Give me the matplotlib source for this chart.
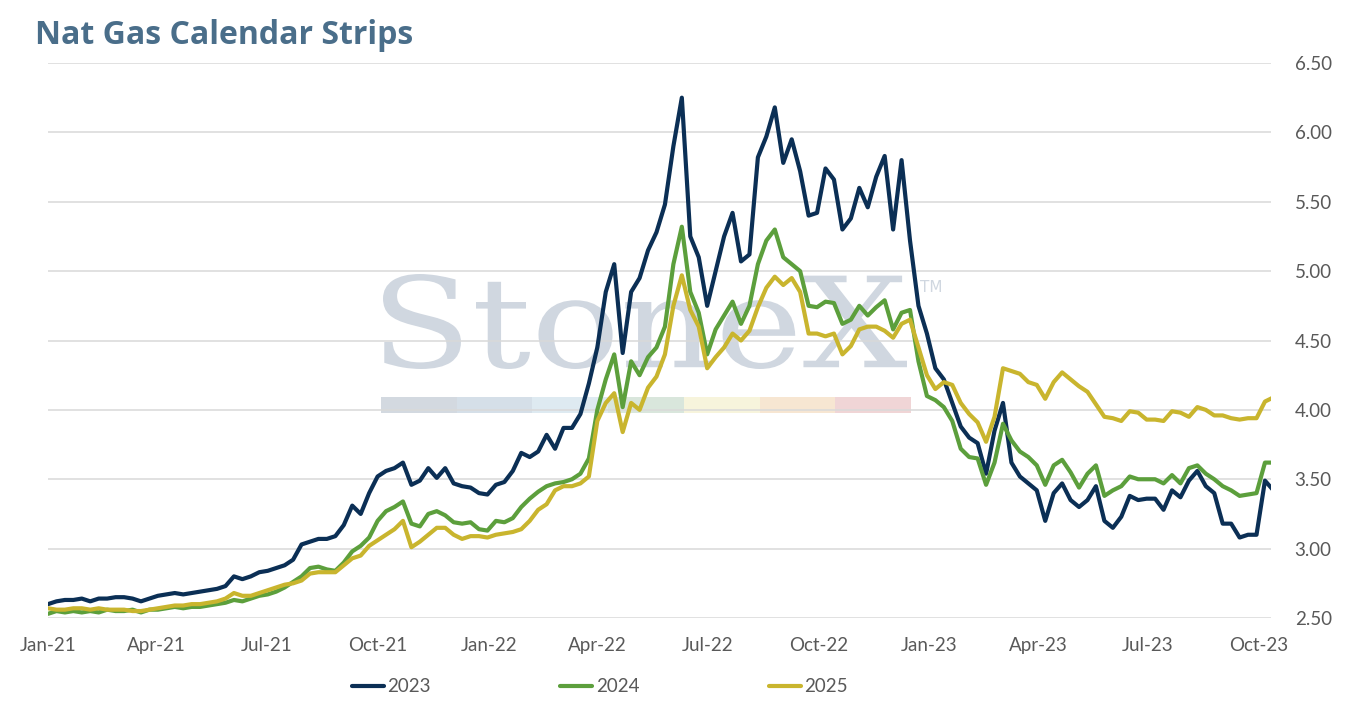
import numpy as np
import pandas as pd
import matplotlib
matplotlib.use("Agg")
import matplotlib.pyplot as plt
import matplotlib.dates as mdates
from matplotlib.textpath import TextPath
from matplotlib.font_manager import FontProperties
from matplotlib.patches import PathPatch, Rectangle
from matplotlib.transforms import Affine2D

# weekly settles, Jan-21 .. Oct-23
dates = pd.date_range("2021-01-01", periods=146, freq="7D")

strip_2023 = [
    2.60, 2.62, 2.63, 2.63, 2.64, 2.62, 2.64, 2.64, 2.65, 2.65,
    2.64, 2.62, 2.64, 2.66, 2.67, 2.68, 2.67, 2.68, 2.69, 2.70,
    2.71, 2.73, 2.80, 2.78, 2.80, 2.83, 2.84, 2.86, 2.88, 2.92,
    3.03, 3.05, 3.07, 3.07, 3.09, 3.17, 3.31, 3.25, 3.40, 3.52,
    3.56, 3.58, 3.62, 3.46, 3.49, 3.58, 3.51, 3.58, 3.47, 3.45,
    3.44, 3.40, 3.39, 3.46, 3.48, 3.56, 3.69, 3.66, 3.70, 3.82,
    3.72, 3.87, 3.87, 3.97, 4.19, 4.45, 4.85, 5.05, 4.41, 4.85,
    4.95, 5.15, 5.28, 5.48, 5.90, 6.25, 5.25, 5.10, 4.75, 5.00,
    5.25, 5.42, 5.07, 5.12, 5.82, 5.97, 6.18, 5.78, 5.95, 5.72,
    5.40, 5.42, 5.74, 5.66, 5.30, 5.38, 5.60, 5.46, 5.68, 5.83,
    5.30, 5.80, 5.22, 4.75, 4.55, 4.30, 4.22, 4.05, 3.88, 3.80,
    3.76, 3.54, 3.85, 4.05, 3.62, 3.52, 3.47, 3.42, 3.20, 3.40,
    3.47, 3.35, 3.30, 3.35, 3.45, 3.20, 3.15, 3.23, 3.38, 3.35,
    3.36, 3.36, 3.28, 3.42, 3.37, 3.49, 3.56, 3.45, 3.40, 3.18,
    3.18, 3.08, 3.10, 3.10, 3.49, 3.42,
]

strip_2024 = [
    2.53, 2.55, 2.54, 2.55, 2.54, 2.55, 2.54, 2.56, 2.55, 2.55,
    2.56, 2.54, 2.56, 2.56, 2.57, 2.58, 2.57, 2.58, 2.58, 2.59,
    2.60, 2.61, 2.63, 2.62, 2.64, 2.66, 2.67, 2.69, 2.72, 2.76,
    2.80, 2.86, 2.87, 2.85, 2.84, 2.90, 2.98, 3.02, 3.08, 3.20,
    3.27, 3.30, 3.34, 3.18, 3.16, 3.25, 3.27, 3.24, 3.19, 3.18,
    3.19, 3.14, 3.13, 3.20, 3.19, 3.22, 3.30, 3.36, 3.41, 3.45,
    3.47, 3.48, 3.50, 3.54, 3.65, 4.00, 4.22, 4.40, 4.02, 4.35,
    4.25, 4.38, 4.45, 4.60, 5.05, 5.32, 4.85, 4.70, 4.40, 4.58,
    4.68, 4.78, 4.62, 4.75, 5.05, 5.22, 5.30, 5.10, 5.05, 5.00,
    4.75, 4.74, 4.78, 4.77, 4.62, 4.65, 4.75, 4.68, 4.74, 4.79,
    4.58, 4.70, 4.72, 4.35, 4.10, 4.07, 4.02, 3.92, 3.72, 3.66,
    3.65, 3.46, 3.62, 3.90, 3.78, 3.70, 3.66, 3.60, 3.46, 3.60,
    3.64, 3.55, 3.44, 3.54, 3.60, 3.38, 3.42, 3.45, 3.52, 3.50,
    3.50, 3.50, 3.47, 3.53, 3.47, 3.58, 3.60, 3.54, 3.50, 3.45,
    3.42, 3.38, 3.39, 3.40, 3.62, 3.62,
]

strip_2025 = [
    2.57, 2.56, 2.56, 2.57, 2.57, 2.56, 2.57, 2.56, 2.56, 2.56,
    2.55, 2.55, 2.56, 2.57, 2.58, 2.59, 2.59, 2.60, 2.60, 2.61,
    2.62, 2.64, 2.68, 2.66, 2.66, 2.68, 2.70, 2.72, 2.74, 2.75,
    2.77, 2.82, 2.83, 2.83, 2.83, 2.88, 2.93, 2.95, 3.02, 3.06,
    3.10, 3.14, 3.20, 3.01, 3.05, 3.10, 3.15, 3.15, 3.10, 3.07,
    3.09, 3.09, 3.08, 3.10, 3.11, 3.12, 3.14, 3.20, 3.28, 3.32,
    3.42, 3.45, 3.45, 3.47, 3.52, 3.92, 4.05, 4.12, 3.84, 4.05,
    4.00, 4.16, 4.24, 4.40, 4.75, 4.97, 4.72, 4.60, 4.30, 4.38,
    4.45, 4.55, 4.50, 4.57, 4.74, 4.88, 4.96, 4.90, 4.95, 4.85,
    4.55, 4.55, 4.53, 4.55, 4.40, 4.46, 4.58, 4.60, 4.60, 4.57,
    4.52, 4.62, 4.65, 4.45, 4.25, 4.15, 4.20, 4.18, 4.05, 3.97,
    3.91, 3.77, 3.95, 4.30, 4.28, 4.26, 4.20, 4.18, 4.08, 4.20,
    4.27, 4.22, 4.17, 4.13, 4.04, 3.95, 3.94, 3.92, 3.99, 3.98,
    3.93, 3.93, 3.92, 3.99, 3.98, 3.95, 4.02, 4.00, 3.96, 3.96,
    3.94, 3.93, 3.94, 3.94, 4.06, 4.09,
]

series_labels = ["2023", "2024", "2025"]
series_colors = ["#0b2f55", "#5c9f3c", "#c9b52e"]
y_ticks = [2.5, 3.0, 3.5, 4.0, 4.5, 5.0, 5.5, 6.0, 6.5]

W, H = 1350, 707
plt.rcParams["font.family"] = ["Lato", "DejaVu Sans"]

fig = plt.figure(figsize=(W / 100, H / 100), dpi=100)
ax = fig.add_axes([48 / W, 1 - 618 / H, (1271 - 48) / W, (618 - 63) / H])

# StoneX watermark, stretched into its box (pixel coords -> figure fraction)
def px_box(path, x0, y0, x1, y1):
    ext = path.get_extents()
    sx = (x1 - x0) / ext.width
    sy = (y1 - y0) / ext.height
    tr = (Affine2D().translate(-ext.x0, -ext.y0).scale(sx, sy)
          .translate(x0, H - y1).scale(1 / W, 1 / H))
    return tr + fig.transFigure

wm_color = "#d0d7e0"
tp = TextPath((0, 0), "StoneX", prop=FontProperties(family="DejaVu Serif"), size=100)
ax.add_patch(PathPatch(tp, transform=px_box(tp, 383, 274, 907, 369),
                       facecolor=wm_color, edgecolor="none", zorder=0.2, clip_on=False))
fig.text(920 / W, 1 - 287 / H, "TM", fontsize=11, color=wm_color,
         family="DejaVu Sans", va="center", ha="left")

bar_colors = ["#d3d9e0", "#d5dfe8", "#deeaf1", "#d9e6dc", "#f7f4dc", "#f7e6d2", "#f0d5d6"]
seg = (911 - 381) / len(bar_colors)
for i, c in enumerate(bar_colors):
    ax.add_patch(Rectangle(((381 + i * seg) / W, 1 - 413 / H), seg / W, 16 / H,
                           transform=fig.transFigure, facecolor=c, edgecolor="none",
                           zorder=0.2, clip_on=False))

lines = []
for vals, lab, col in zip([strip_2023, strip_2024, strip_2025], series_labels, series_colors):
    ln, = ax.plot(dates, vals, color=col, lw=3.0, label=lab,
                  solid_joinstyle="round", solid_capstyle="round", zorder=3)
    lines.append(ln)

ax.set_ylim(2.5, 6.5)
ax.set_yticks(y_ticks)
ax.yaxis.set_major_formatter(matplotlib.ticker.FormatStrFormatter("%.2f"))
ax.yaxis.tick_right()
ax.set_xlim(pd.Timestamp("2021-01-01"), pd.Timestamp("2023-10-11"))
ax.set_xticks(pd.date_range("2021-01-01", "2023-10-01", freq="QS"))
ax.xaxis.set_major_formatter(mdates.DateFormatter("%b-%y"))

ax.grid(axis="y", color="#d9d9d9", lw=1.1, zorder=0.5)
ax.set_axisbelow(True)
ax.set_facecolor("none")
for s in ax.spines.values():
    s.set_visible(False)
ax.tick_params(axis="both", length=0, labelsize=13.5, labelcolor="#595959")
ax.tick_params(axis="y", pad=17)
ax.tick_params(axis="x", pad=14)

fig.text(35 / W, 1 - 36 / H, "Nat Gas Calendar Strips", fontsize=23, fontweight="bold",
         family=["Open Sans", "DejaVu Sans"], color="#4a6e8a", va="center", ha="left")

fig.legend(lines, series_labels, loc="center", bbox_to_anchor=(600 / W, 1 - 687 / H),
           ncol=3, frameon=False, handlelength=1.7, handletextpad=0.2,
           columnspacing=6.9, fontsize=13.5, labelcolor="#595959")

fig.savefig("out.png", dpi=100)
